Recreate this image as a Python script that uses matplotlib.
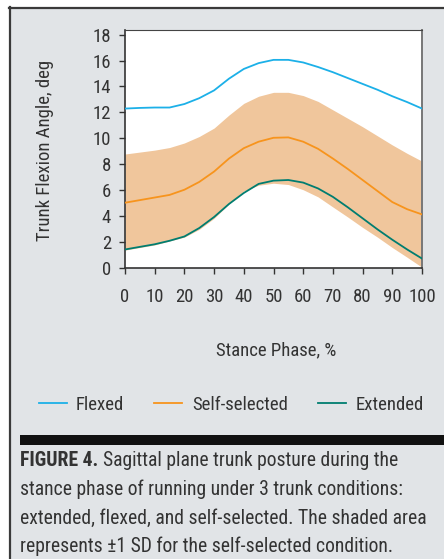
import matplotlib
matplotlib.use('Agg')
import matplotlib.pyplot as plt
from matplotlib import font_manager as fm
from matplotlib.patches import Rectangle
from matplotlib.lines import Line2D

# stance phase (%) and trunk flexion angles (deg)
phase = [0, 5, 10, 15, 20, 25, 30, 35, 40, 45, 50, 55, 60, 65, 70, 75, 80, 85, 90, 95, 100]
flexed = [12.3, 12.35, 12.38, 12.38, 12.65, 13.1, 13.7, 14.6, 15.35, 15.8, 16.05,
          16.05, 15.85, 15.5, 15.1, 14.65, 14.2, 13.75, 13.25, 12.8, 12.3]
self_sel = [5.05, 5.25, 5.45, 5.65, 6.05, 6.65, 7.45, 8.45, 9.25, 9.75, 10.05,
            10.08, 9.75, 9.2, 8.45, 7.65, 6.8, 5.95, 5.1, 4.55, 4.15]
sd_upper = [8.8, 8.95, 9.1, 9.3, 9.65, 10.15, 10.8, 11.8, 12.7, 13.25, 13.55,
            13.55, 13.3, 12.85, 12.2, 11.55, 10.9, 10.2, 9.5, 8.85, 8.25]
sd_lower = [1.4, 1.6, 1.8, 2.1, 2.4, 3.0, 3.85, 4.95, 5.95, 6.4, 6.55,
            6.45, 6.05, 5.5, 4.72, 3.95, 3.15, 2.4, 1.6, 0.85, 0.08]
extended = [1.45, 1.65, 1.85, 2.12, 2.45, 3.1, 3.95, 4.95, 5.8, 6.5, 6.75,
            6.8, 6.6, 6.15, 5.5, 4.7, 3.85, 3.0, 2.2, 1.45, 0.75]

x_ticks = list(range(0, 101, 10))
y_ticks = list(range(0, 19, 2))

labels = ['Flexed', 'Self-selected', 'Extended']
colors = ['#1cb0e8', '#f7941d', '#007d70']
band_color = '#f0c69c'
bg = '#e1e4e7'
txt = '#333333'

W, H = 444, 559

# pick a condensed face if one is installed
installed = {f.name for f in fm.fontManager.ttflist}
cands = ['Roboto Condensed', 'Fira Sans Condensed', 'Barlow Semi Condensed',
         'Archivo Narrow', 'PT Sans Narrow', 'Liberation Sans Narrow', 'Liberation Sans']
face = next((c for c in cands if c in installed), 'DejaVu Sans')
plt.rcParams['font.family'] = [face, 'DejaVu Sans']
FS = 13.5
CAP = 14.1

fig = plt.figure(figsize=(W / 100, H / 100), dpi=100)
fig.patch.set_facecolor('white')

# grey panel with dark border on left and top
fig.patches.append(Rectangle((9 / W, 0), 1, 1 - 7 / H, transform=fig.transFigure,
                             facecolor=bg, edgecolor='none', zorder=-10))
fig.lines.append(Line2D([10 / W, 10 / W], [0, 1 - 7 / H], transform=fig.transFigure,
                        color='#3a3a3a', lw=1.6, zorder=-5))
fig.lines.append(Line2D([9 / W, 1], [1 - 8 / H, 1 - 8 / H], transform=fig.transFigure,
                        color='#3a3a3a', lw=1.6, zorder=-5))

# black separator bar
fig.patches.append(Rectangle((20 / W, 1 - 445 / H), 1, 10 / H, transform=fig.transFigure,
                             facecolor='#111111', edgecolor='none', zorder=-5))

ax = fig.add_axes([125 / W, 1 - 268.3 / H, 297 / W, 238.3 / H])
ax.set_facecolor('white')
ax.fill_between(phase, sd_lower, sd_upper, color=band_color, lw=0, zorder=1)
for vals, c in zip([flexed, self_sel, extended], colors):
    ax.plot(phase, vals, color=c, lw=1.3, zorder=3)

ax.set_xlim(0, 100)
ax.set_ylim(0, 18.35)
ax.set_xticks(x_ticks)
ax.set_yticks(y_ticks)
ax.tick_params(direction='out', length=4, width=1, color=txt, labelcolor=txt,
               labelsize=FS, pad=10)
ax.tick_params(axis='y', pad=6)
for s in ['left', 'bottom']:
    ax.spines[s].set_color(txt)
    ax.spines[s].set_linewidth(1.2)
ax.spines['top'].set_color('#444444')
ax.spines['top'].set_linewidth(0.8)
ax.spines['right'].set_color('#777777')
ax.spines['right'].set_linewidth(1.4)

fig.text(45 / W, 1 - 150 / H, 'Trunk Flexion Angle, deg', rotation=90,
         ha='center', va='center', fontsize=FS, color=txt)
fig.text(276 / W, 1 - 350 / H, 'Stance Phase, %', ha='center', va='center',
         fontsize=FS, color=txt)

handles = [Line2D([], [], color=c, lw=1.3) for c in colors]
fig.legend(handles, labels, loc='center', bbox_to_anchor=(231 / W, 1 - 405 / H),
           ncol=3, frameon=False, fontsize=FS, handlelength=1.5, handletextpad=0.5,
           columnspacing=1.6, labelcolor=txt)

# caption
fig.canvas.draw()
r = fig.canvas.get_renderer()
cap_y = [466, 495, 524, 552]
t = fig.text(20 / W, 1 - cap_y[0] / H, 'FIGURE 4.', fontsize=CAP, fontweight='bold',
             color=txt, va='baseline')
bb = t.get_window_extent(r)
fig.text(bb.x1 / W + 5 / W, 1 - cap_y[0] / H, 'Sagittal plane trunk posture during the',
         fontsize=CAP, color=txt, va='baseline')
rest = ['stance phase of running under 3 trunk conditions:',
        'extended, flexed, and self-selected. The shaded area',
        'represents \u00b11 SD for the self-selected condition.']
for yy, line in zip(cap_y[1:], rest):
    fig.text(20 / W, 1 - yy / H, line, fontsize=CAP, color=txt, va='baseline')

fig.savefig('out.png', dpi=100)
